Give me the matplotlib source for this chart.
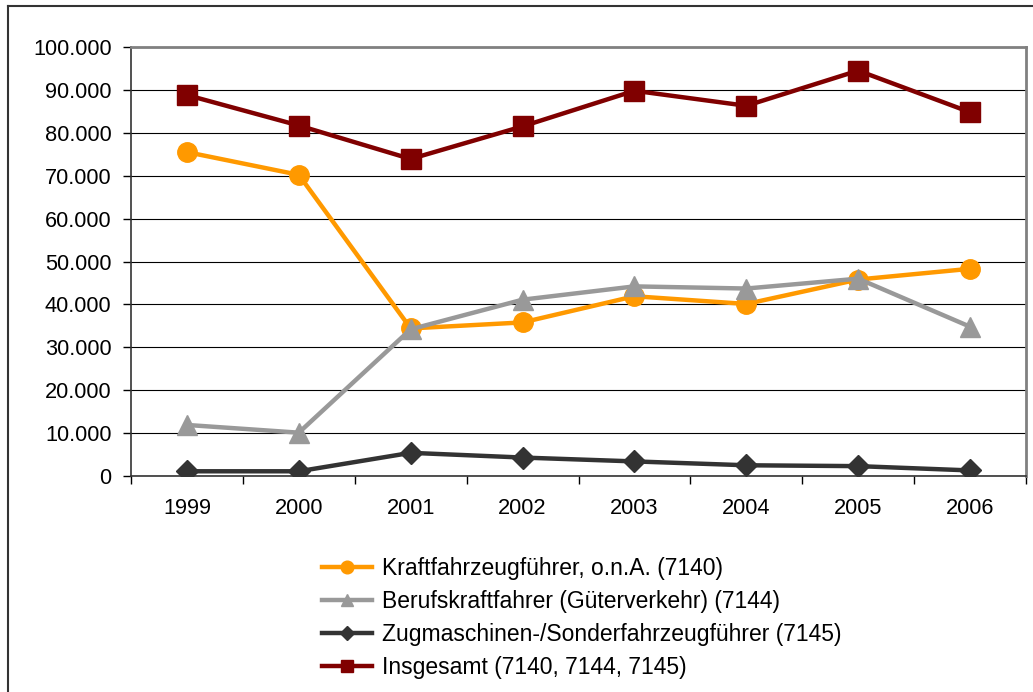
import matplotlib.pyplot as plt
from matplotlib.lines import Line2D
from matplotlib.ticker import FuncFormatter, MultipleLocator

plt.rcParams['font.family'] = ['Liberation Sans', 'DejaVu Sans']

years = ['1999', '2000', '2001', '2002', '2003', '2004', '2005', '2006']
kraftfahrzeugfuehrer = [75500, 70200, 34400, 35800, 41900, 40100, 45800, 48300]
berufskraftfahrer = [11900, 10100, 34200, 41100, 44200, 43700, 46000, 34800]
zugmaschinen = [1100, 1100, 5400, 4300, 3400, 2500, 2300, 1300]
insgesamt = [88800, 81700, 73900, 81500, 89800, 86300, 94500, 84800]

labels = ['Kraftfahrzeugführer, o.n.A. (7140)',
          'Berufskraftfahrer (Güterverkehr) (7144)',
          'Zugmaschinen-/Sonderfahrzeugführer (7145)',
          'Insgesamt (7140, 7144, 7145)']

fig = plt.figure(figsize=(10.33, 6.92), dpi=100)
ax = fig.add_axes([131 / 1033, 1 - 476 / 692, (1026 - 131) / 1033, (476 - 47) / 692])

x = list(range(len(years)))
series = [
    (kraftfahrzeugfuehrer, '#FF9900', 'o', 14),
    (berufskraftfahrer, '#999999', '^', 14),
    (zugmaschinen, '#333333', 'D', 11),
    (insgesamt, '#800000', 's', 14),
]
handles = []
for (vals, col, mk, ms), lab in zip(series, labels):
    ax.plot(x, vals, color=col, lw=3.2, marker=mk, markersize=ms, zorder=3)
    handles.append(Line2D([], [], color=col, lw=3.2, marker=mk, markersize=ms * 0.65))

ax.set_xlim(-0.5, 7.5)
ax.set_ylim(0, 100000)
ax.yaxis.set_major_locator(MultipleLocator(10000))
ax.yaxis.set_major_formatter(FuncFormatter(lambda v, p: f'{int(v):,}'.replace(',', '.')))
ax.grid(axis='y', color='black', lw=0.8)
ax.set_axisbelow(True)

ax.set_xticks(x)
ax.set_xticklabels(years)
ax.set_xticks([i + 0.5 for i in range(-1, 8)], minor=True)
ax.tick_params(axis='x', which='major', length=0, pad=16, labelsize=15.7)
ax.tick_params(axis='x', which='minor', length=6, width=1, direction='out')
ax.tick_params(axis='y', length=6, width=1, direction='out', pad=8, labelsize=15.7)

for s in ['top', 'right']:
    ax.spines[s].set_color('#808080')
    ax.spines[s].set_linewidth(2)
for s in ['left', 'bottom']:
    ax.spines[s].set_color('#333333')
    ax.spines[s].set_linewidth(1.2)

fig.legend(handles, labels, loc='upper left', bbox_to_anchor=(322 / 1033, 1 - 557 / 692),
           frameon=False, fontsize=16.5, handlelength=2.2, handletextpad=0.42,
           labelspacing=0.44, borderaxespad=0, borderpad=0)

# outer chart frame (left and top edges visible)
fig.add_artist(Line2D([8 / 1033, 8 / 1033], [0, 1 - 6 / 692], color='#333333', lw=1.5))
fig.add_artist(Line2D([8 / 1033, 1], [1 - 6 / 692, 1 - 6 / 692], color='#333333', lw=1.5))

fig.savefig('out.png', dpi=100)
